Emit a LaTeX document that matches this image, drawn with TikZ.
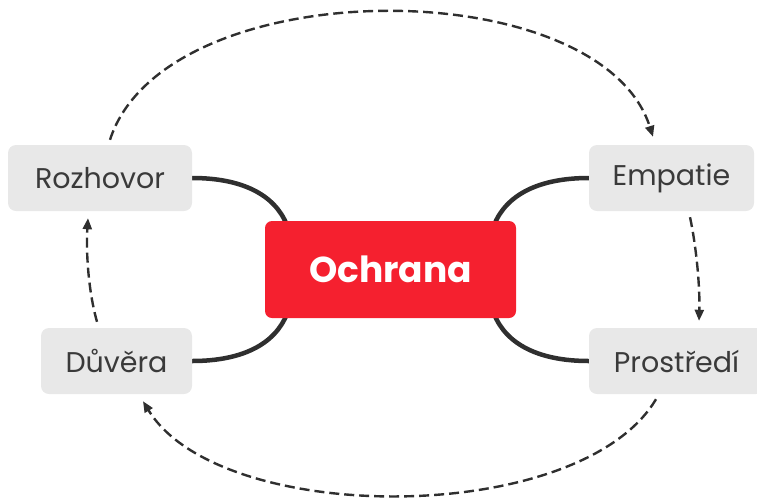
\documentclass[tikz,border=0pt]{standalone}
\usepackage{fontspec}
\setmainfont{Poppins}
\usetikzlibrary{arrows.meta,calc,backgrounds}
\definecolor{boxgray}{HTML}{E8E8E8}
\definecolor{txt}{HTML}{3A3A3A}
\definecolor{hubred}{HTML}{F5202F}
\definecolor{link}{HTML}{2F2F2F}
\begin{document}
\begin{tikzpicture}[x=1pt,y=-1pt,
 leaf/.style={fill=boxgray, rounded corners=8pt, minimum height=66pt, text=txt, font=\fontsize{28.5}{32}\selectfont, inner sep=0pt},
 hub/.style={fill=hubred, rounded corners=7pt, minimum width=251pt, minimum height=97pt, text=white, font=\fontsize{36}{42}\selectfont\bfseries},
 branch/.style={draw=link, line width=4.5pt},
 flow/.style={draw=link, line width=2.4pt, dash pattern=on 10pt off 5pt, -{Triangle[length=11pt,width=9pt]}}
]
\useasboundingbox (0,0) rectangle (757,499);
\node[hub] (och) at (390.5,269.5) {Ochrana};
\node[leaf, minimum width=184pt] (roz) at (100,178) {Rozhovor};
\node[leaf, minimum width=165pt] (emp) at (671.5,178) {Empatie};
\node[leaf, minimum width=151pt] (duv) at (116.5,361) {Důvěra};
\node[leaf, minimum width=175pt] (pro) at (676.5,361) {Prostředí};

\begin{pgfonlayer}{background}
\draw[branch] (roz.east) .. controls +(50,0) and +(-12,-30) .. ($(och.north west)+(22,4)$);
\draw[branch] (emp.west) .. controls +(-50,0) and +(12,-30) .. ($(och.north east)+(-22,4)$);
\draw[branch] (duv.east) .. controls +(50,0) and +(-12,30) .. ($(och.south west)+(22,-4)$);
\draw[branch] (pro.west) .. controls +(-50,0) and +(12,30) .. ($(och.south east)+(-22,-4)$);
\end{pgfonlayer}

\draw[flow] ($(roz.north)+(10,-5)$) .. controls (165,-30) and (600,-30) .. ($(emp.north)+(-18.5,-8)$);
\draw[flow] ($(emp.south)+(18.5,6)$) .. controls (697,250) and (700,290) .. ($(pro.north)+(22.5,-7)$);
\draw[flow] ($(pro.south)+(-20.5,5)$) .. controls (580,527) and (220,527) .. ($(duv.south)+(26.5,7)$);
\draw[flow] ($(duv.north)+(-19.5,-6)$) .. controls (88,290) and (86,250) .. ($(roz.south)+(-12,7)$);
\end{tikzpicture}
\end{document}
